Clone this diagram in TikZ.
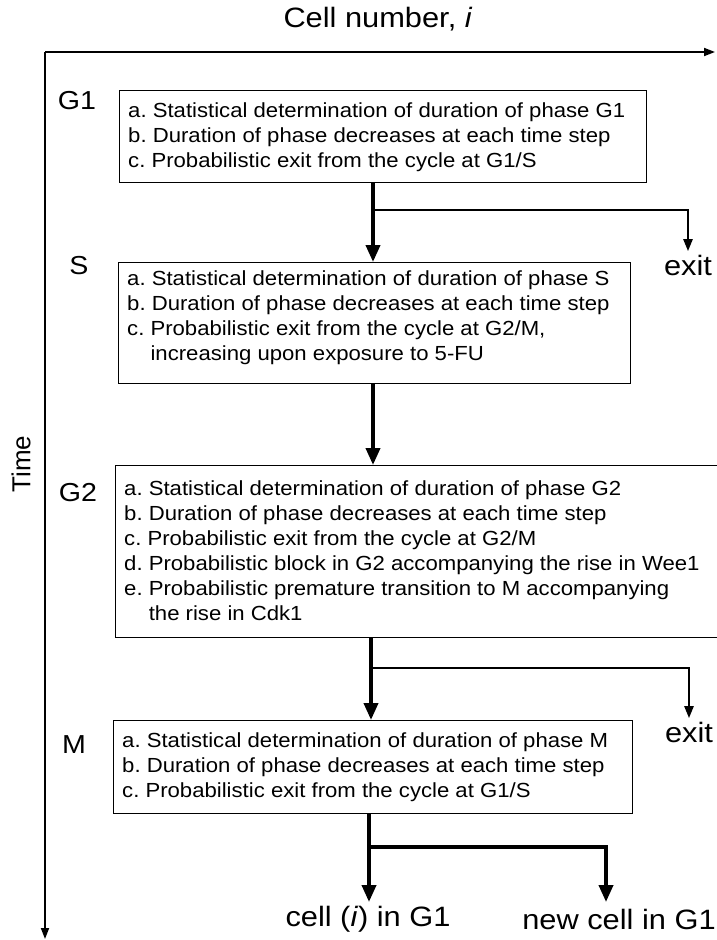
\documentclass[tikz,border=0pt]{standalone}
\usepackage{fontspec}
\setmainfont[FakeStretch=1.1]{Liberation Sans}
\newfontfamily\boxfont[FakeStretch=1.085]{Liberation Sans}
\newfontfamily\plainfont{Liberation Sans}
\usetikzlibrary{arrows.meta}
\frenchspacing
\begin{document}
\begin{tikzpicture}[x=1pt,y=-1pt,
  phasebox/.style={draw,line width=1.4pt,anchor=north west,inner sep=0pt},
  boxtext/.style={anchor=west,align=left,inner sep=0pt,font=\boxfont\fontsize{20.4}{25}\selectfont},
  phaselbl/.style={font=\fontsize{26}{28}\selectfont},
  outlbl/.style={font=\fontsize{28}{30}\selectfont},
  mainarr/.style={line width=3.8pt,-{Triangle[length=17pt,width=14pt]}},
  exitarr/.style={line width=2.3pt,-{Triangle[length=12pt,width=9pt]}},
  axis/.style={line width=1.8pt,-{Triangle[length=11pt,width=8pt]}}]
\useasboundingbox (0,0) rectangle (716,940);
% axes
\coordinate (origin) at (45,52);
\coordinate (xend) at (715,52);
\coordinate (yend) at (45,939);
\draw[axis] (origin) -- (xend);
\draw[axis] (origin) -- (yend);
\node[font=\fontsize{28}{30}\selectfont] (xlab) at (378,19) {Cell number, \textit{i}};
\node[font=\plainfont\fontsize{26}{28}\selectfont,rotate=90] (ylab) at (21,464) {Time};
% phase labels
\node[phaselbl] (lg1) at (77,101) {G1};
\node[phaselbl] (ls) at (79,266) {S};
\node[phaselbl] (lg2) at (78,493) {G2};
\node[phaselbl] (lm) at (74,745) {M};
% boxes
\node[phasebox,minimum width=527pt,minimum height=92pt] (g1) at (119,90) {};
\node[boxtext] (g1t) at ([xshift=9pt,yshift=-1pt]g1.west) {a. Statistical determination of duration of phase G1\\
b. Duration of phase decreases at each time step\\
c. Probabilistic exit from the cycle at G1/S};
\node[phasebox,minimum width=512pt,minimum height=121pt] (s) at (118,262) {};
\node[boxtext] (st) at ([xshift=9pt,yshift=5pt]s.west) {a. Statistical determination of duration of phase S\\
b. Duration of phase decreases at each time step\\
c. Probabilistic exit from the cycle at G2/M,\\
\phantom{c. }increasing upon exposure to 5-FU};
\node[phasebox,minimum width=606pt,minimum height=172pt] (g2) at (115,465) {};
\node[boxtext] (g2t) at ([xshift=9pt,yshift=1pt]g2.west) {a. Statistical determination of duration of phase G2\\
b. Duration of phase decreases at each time step\\
c. Probabilistic exit from the cycle at G2/M\\
d. Probabilistic block in G2 accompanying the rise in Wee1\\
e. Probabilistic premature transition to M accompanying\\
\phantom{e. }the rise in Cdk1};
\node[phasebox,minimum width=519pt,minimum height=93pt] (m) at (113,720) {};
\node[boxtext] (mt) at ([xshift=9pt,yshift=0pt]m.west) {a. Statistical determination of duration of phase M\\
b. Duration of phase decreases at each time step\\
c. Probabilistic exit from the cycle at G1/S};
% outputs
\node[outlbl] (exit1) at (688,265) {exit};
\node[outlbl] (exit2) at (689,732) {exit};
\node[outlbl] (celli) at (368,919) {cell (\textit{i}) in G1};
\node[outlbl] (newc) at (619,919) {new cell in G1};
% branch points
\coordinate (b1) at (373,210);
\coordinate (b2) at (371,668);
\coordinate (b3) at (369,847);
\coordinate (t3) at (369,902);
\coordinate (t4) at (606,902);
% connectors
\draw[mainarr] (g1.south -| b1) -- (s.north -| b1);
\draw[exitarr] (b1) -| (exit1.north);
\draw[mainarr] (s.south -| b1) -- (g2.north -| b1);
\draw[mainarr] (g2.south -| b2) -- (m.north -| b2);
\draw[exitarr] (b2) -| (exit2.north);
\draw[mainarr] (m.south -| b3) -- (t3);
\draw[mainarr] (b3) -| (t4);
\end{tikzpicture}
\end{document}
